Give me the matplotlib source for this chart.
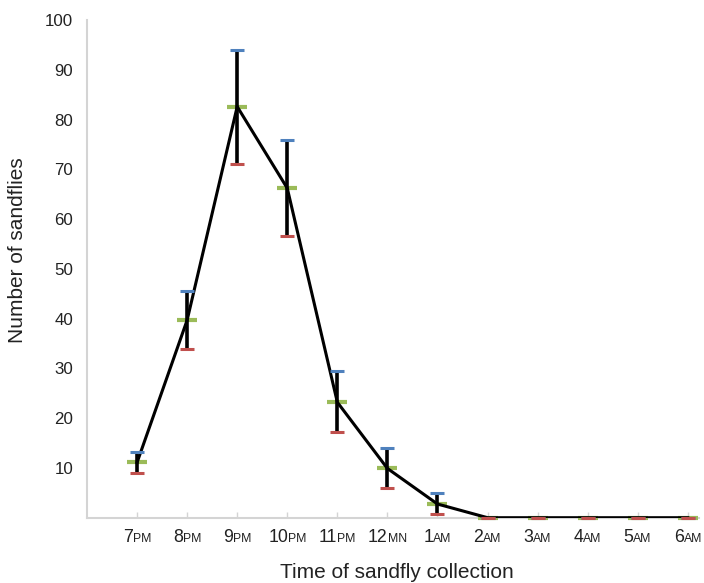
import matplotlib
matplotlib.use("Agg")
import matplotlib.pyplot as plt
from matplotlib.offsetbox import TextArea, HPacker, AnnotationBbox

# Sandfly counts per hour of collection (mean, top and bottom of error bar)
hour_nums = ["7", "8", "9", "10", "11", "12", "1", "2", "3", "4", "5", "6"]
hour_suffix = ["PM", "PM", "PM", "PM", "PM", "MN", "AM", "AM", "AM", "AM", "AM", "AM"]
mean_count = [11.1, 39.7, 82.6, 66.2, 23.2, 9.9, 2.75, 0, 0, 0, 0, 0]
upper_count = [13.3, 45.6, 94.0, 75.9, 29.5, 14.1, 5.0, 0, 0, 0, 0, 0]
lower_count = [9.0, 33.8, 71.1, 56.5, 17.2, 5.9, 0.7, 0, 0, 0, 0, 0]

plt.rcParams["font.family"] = ["Liberation Sans", "DejaVu Sans"]

BLUE = "#4f81bd"
RED = "#c0504d"
GREEN = "#9bbb59"
GRID = "#d4d4d4"
TXT = "#222222"

fig = plt.figure(figsize=(7.04, 5.83), dpi=100)
ax = fig.add_axes([0.1236, 0.112, 0.869, 0.8537])

x = list(range(len(mean_count)))
yerr = [[m - lo for m, lo in zip(mean_count, lower_count)],
        [hi - m for m, hi in zip(mean_count, upper_count)]]

ax.plot(x, mean_count, "_", color=GREEN, ms=14, mew=3, zorder=3, clip_on=False)
ax.errorbar(x, mean_count, yerr=yerr, fmt="none", ecolor="black",
            elinewidth=2.6, capsize=0, zorder=4)
ax.plot(x, mean_count, color="black", lw=2.2, zorder=4)
ax.plot(x, upper_count, "_", color=BLUE, ms=10, mew=2.2, zorder=5, clip_on=False)
ax.plot(x, lower_count, "_", color=RED, ms=10, mew=2.2, zorder=5, clip_on=False)

ax.set_xlim(-1, 11.22)
ax.set_ylim(0, 100)

for side in ["top", "right"]:
    ax.spines[side].set_visible(False)
for side in ["left", "bottom"]:
    ax.spines[side].set_color(GRID)
    ax.spines[side].set_linewidth(1.5)

ax.set_yticks(range(10, 101, 10))
ax.tick_params(axis="y", length=0, pad=10, labelsize=12.2, labelcolor=TXT)
ax.set_xticks(x)
ax.set_xticklabels([])
ax.tick_params(axis="x", direction="in", length=4, color=GRID, width=1)

# tick labels with a smaller AM/PM suffix
for i, (num, suf) in enumerate(zip(hour_nums, hour_suffix)):
    box = HPacker(children=[TextArea(num, textprops=dict(fontsize=12.8, color=TXT)),
                            TextArea(suf, textprops=dict(fontsize=8.8, color=TXT))],
                  align="baseline", pad=0, sep=0)
    ab = AnnotationBbox(box, (i, 0), xycoords=ax.get_xaxis_transform(),
                        xybox=(0, -14.5), boxcoords="offset points",
                        frameon=False, box_alignment=(0.5, 0.5),
                        annotation_clip=False)
    ax.add_artist(ab)

fig.text(397 / 704, 1 - 572 / 583, "Time of sandfly collection", fontsize=15,
         color=TXT, ha="center", va="center")
fig.text(17.5 / 704, 1 - 250 / 583, "Number of sandflies", fontsize=15,
         color=TXT, ha="center", va="center", rotation=90)

fig.savefig("out.png", dpi=100)
